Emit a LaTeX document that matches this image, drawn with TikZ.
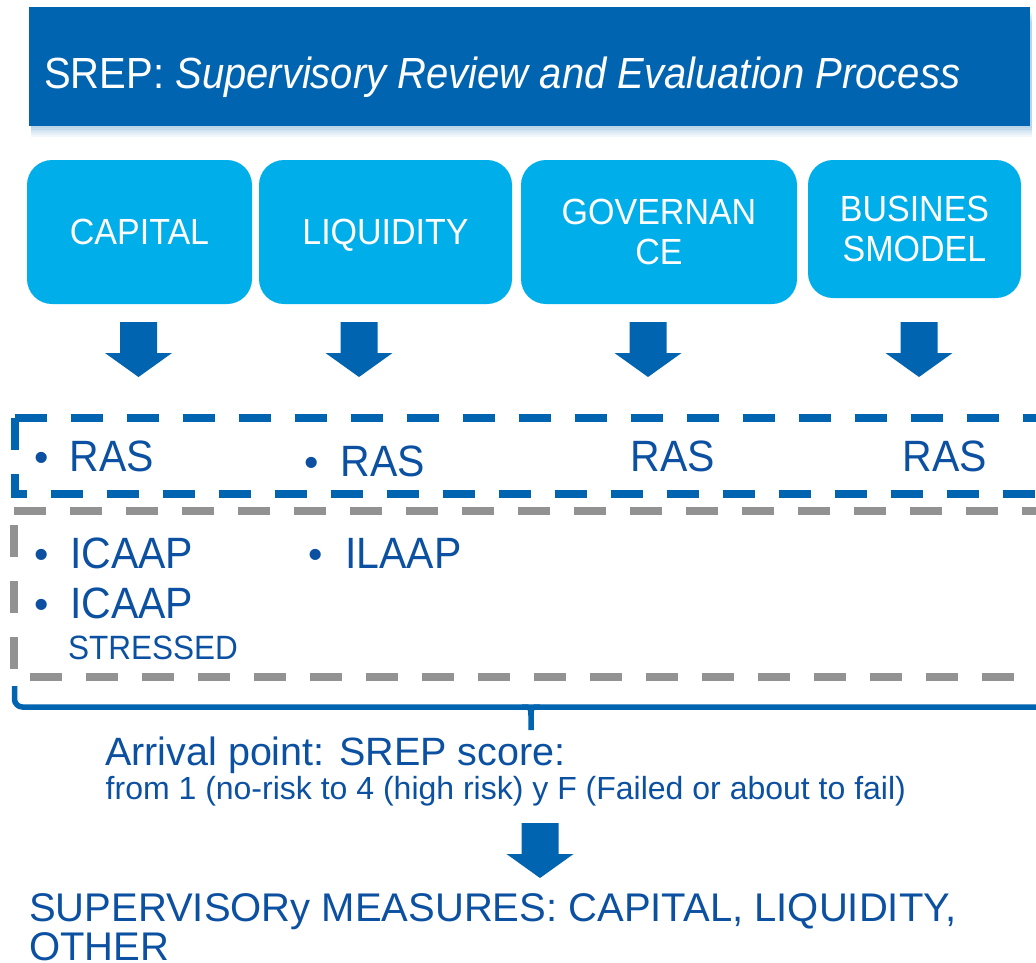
\documentclass[tikz,border=0pt]{standalone}
\usepackage{fontspec}
\usepackage{graphicx}
\setmainfont{Liberation Sans}
\definecolor{bannerblue}{RGB}{0,100,176}
\definecolor{boxblue}{RGB}{0,174,234}
\definecolor{txtblue}{RGB}{12,80,162}
\definecolor{dashgray}{RGB}{146,146,146}
\newcommand\vs[1]{\scalebox{1}[1.07]{#1}}
\newcommand\blkarrow[2]{%
  \fill[arrowfill] (#1-18.5,#2) -- (#1+18.5,#2) -- (#1+18.5,#2+31) -- (#1+33.5,#2+31)
    -- (#1,#2+55) -- (#1-33.5,#2+31) -- (#1-18.5,#2+31) -- cycle;}
\begin{document}
\begin{tikzpicture}[x=1pt,y=-1pt,
  banner/.style={fill=bannerblue,draw=none,inner sep=0pt,anchor=north west},
  titletext/.style={text=white,inner sep=0pt,anchor=base west,font=\fontsize{40}{48}\selectfont},
  topbox/.style={fill=boxblue,draw=none,rounded corners=25pt,text=white,inner sep=0pt,
     align=center,font=\fontsize{34}{40}\selectfont},
  arrowfill/.style={fill=bannerblue},
  item/.style={text=txtblue,inner sep=0pt,anchor=base west,font=\fontsize{41}{48}\selectfont},
  smallitem/.style={text=txtblue,inner sep=0pt,anchor=base west,font=\fontsize{31.5}{38}\selectfont},
  bluedash/.style={draw=bannerblue,line width=8pt,dash pattern=on 32pt off 24pt},
  graydash/.style={draw=dashgray,line width=8pt,dash pattern=on 32pt off 24pt},
  bracestyle/.style={draw=bannerblue,line width=5.5pt},
  bottomtext/.style={text=txtblue,inner sep=0pt,align=left}
]
\useasboundingbox (0,0) rectangle (1036,962);
\clip (0,0) rectangle (1036,962);

% banner shadow
\foreach \d in {2,4,...,12}{
  \fill[bannerblue,opacity=0.05] (31,10+\d) rectangle (1032,126+\d*0.9);
}
\node[banner,minimum width=1001pt,minimum height=119pt] (banner) at (29,7) {};
\node[titletext] (title) at (44,88) {\scalebox{1}[1.09]{SREP: \textit{Supervisory Review and Evaluation Process}}};

% top boxes
\node[topbox,minimum width=225pt,minimum height=144pt,text depth=0pt] (capital) at (139.5,232) {\vs{CAPITAL}};
\node[topbox,minimum width=253pt,minimum height=144pt,text depth=0pt] (liquidity) at (385.5,232) {\vs{LIQUIDITY}};
\node[topbox,minimum width=276pt,minimum height=144pt] (governance) at (659,232) {\vs{GOVERNAN}\\\vs{CE}};
\node[topbox,minimum width=213pt,minimum height=138pt] (business) at (914.5,229) {\vs{BUSINES}\\\vs{SMODEL}};

% block arrows
\blkarrow{138.5}{322}
\blkarrow{359}{322}
\blkarrow{648}{322}
\blkarrow{919}{322}

% blue dashed box (runs past the right edge)
\draw[bluedash] (14.5,418) -- (1100,418);
\draw[bluedash] (14.5,418) -- (14.5,494) -- (1100,494);
% gray dashed box
\draw[graydash] (14,511) -- (1100,511);
\draw[graydash,dash phase=42pt] (14,511) -- (14,677) -- (1100,677);

% items
\node[item] (ras1) at (34.5,471) {\makebox[35pt][l]{\textbullet}\vs{RAS}};
\node[item] (ras2) at (304.5,476) {\makebox[36pt][l]{\textbullet}\vs{RAS}};
\node[item] (ras3) at (630.5,471) {\vs{RAS}};
\node[item] (ras4) at (902.5,471) {\vs{RAS}};
\node[item] (icaap1) at (34.5,568) {\makebox[35.5pt][l]{\textbullet}\vs{ICAAP}};
\node[item] (icaap2) at (34.5,618) {\makebox[35.5pt][l]{\textbullet}\vs{ICAAP}};
\node[smallitem] (stressed) at (68,659) {\vs{STRESSED}};
\node[item] (ilaap) at (308.5,568) {\makebox[36.5pt][l]{\textbullet}\vs{ILAAP}};

% brace
\draw[bracestyle,rounded corners=8pt] (14.5,686) -- (14.5,707) -- (1100,707);
\draw[bracestyle] (522,707) .. controls (531,707) .. (531,716) -- (531,730);
\draw[bracestyle] (540,707) .. controls (531,707) .. (531,716);

% arrival text
\node[bottomtext,anchor=base west,font=\fontsize{39.5}{46}\selectfont] (arrival) at (105,765) {Arrival point: SREP score:};
\node[bottomtext,anchor=base west,font=\fontsize{32}{38}\selectfont] (scale) at (105.5,799) {from 1 (no-risk to 4 (high risk) y F (Failed or about to fail)};

\blkarrow{540}{823}

\node[bottomtext,anchor=north west,font=\fontsize{40}{39}\selectfont] (measures) at (29,893) {SUPERVISORy MEASURES: CAPITAL, LIQUIDITY,\\OTHER};
\end{tikzpicture}
\end{document}
